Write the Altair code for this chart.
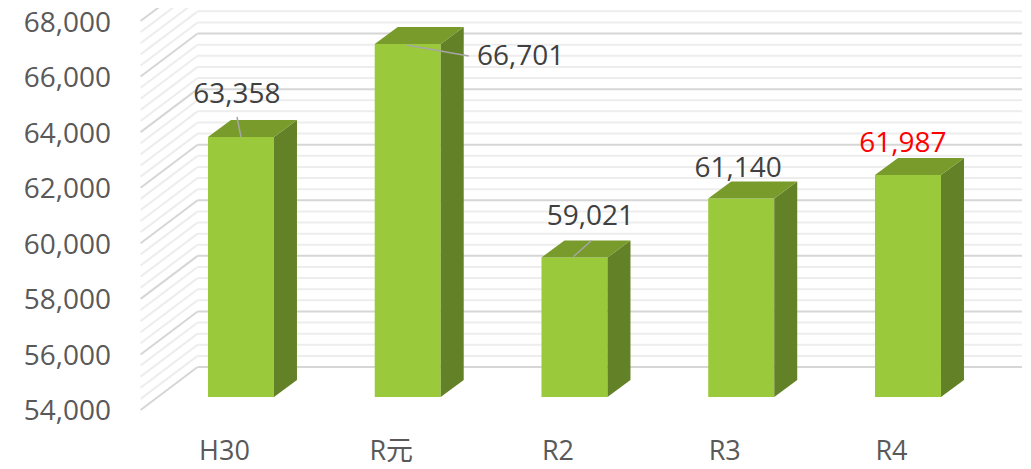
import altair as alt
import pandas as pd

# ---- data ----
categories = ["H30", "R元", "R2", "R3", "R4"]
values = [63358, 66701, 59021, 61140, 61987]
label_colors = ["#404040", "#404040", "#404040", "#404040", "#FF0000"]
y_ticks = [54000, 56000, 58000, 60000, 62000, 64000, 66000, 68000]

# ---- style / layout ----
Y_MIN, Y_MAX = 54000, 68000
MINOR_STEP = 400
W, H = 833.75, 389.0
PX_X = W / len(categories)          # px per category index
PX_Y = H / (Y_MAX - Y_MIN)          # px per unit
WALL_DX, WALL_DY = 57, -43          # perspective offset of the back wall (px)
BAR_OX, BAR_OY = 17, -13            # bar front plane offset (px)
BAR_DEPTH_X, BAR_DEPTH_Y = 23, 17   # bar depth (px)
BAR_HALF = 33                       # half bar width (px)
FONT = "Open Sans, Noto Sans CJK JP, sans-serif"

# label offsets (px) relative to bar front-top centre
label_offsets = [(-4, -42), (113, 13), (16, -40), (-3, -30), (-5, -31)]
# leader lines (start, end) in px relative to bar front-top centre
leaders = [((-4, -20), (0, 0)), ((-1, 1), (61, 12)), ((-1, -1), (17, -17)), None, None]

hw = BAR_HALF / PX_X
ddx = BAR_DEPTH_X / PX_X
ddy = BAR_DEPTH_Y / PX_Y

xscale = alt.Scale(domain=[-0.5, len(categories) - 0.5], nice=False, zero=False)
yscale = alt.Scale(domain=[Y_MIN, Y_MAX], nice=False, zero=False)

label_expr = "[" + ",".join("'" + c + "'" for c in categories) + "][datum.value]"

# grid values
grid_vals = list(range(Y_MIN, Y_MAX + 1, MINOR_STEP))
grid = pd.DataFrame({
    "v": grid_vals,
    "major": [v % 2000 == 0 for v in grid_vals],
    "x0": -0.5,
    "x1": len(categories) - 0.5,
})

bars = pd.DataFrame({
    "i": list(range(len(categories))),
    "cat": categories,
    "v": values,
})
bars["xl"] = bars["i"] - hw
bars["xr"] = bars["i"] + hw
bars["base"] = Y_MIN

side_rows, top_rows = [], []
for i, v in enumerate(values):
    side_rows.append({"bar": i, "x": i + hw, "top": v, "bot": Y_MIN})
    side_rows.append({"bar": i, "x": i + hw + ddx, "top": v + ddy, "bot": Y_MIN + ddy})
    top_rows.append({"bar": i, "x": i - hw, "lo": v, "hi": v})
    top_rows.append({"bar": i, "x": i - hw + ddx, "lo": v, "hi": v + ddy})
    top_rows.append({"bar": i, "x": i + hw, "lo": v, "hi": v + ddy})
    top_rows.append({"bar": i, "x": i + hw + ddx, "lo": v + ddy, "hi": v + ddy})
side = pd.DataFrame(side_rows)
top = pd.DataFrame(top_rows)

lab_rows = []
for i, (v, (dx, dy), col) in enumerate(zip(values, label_offsets, label_colors)):
    lab_rows.append({
        "x": i + (BAR_OX + dx) / PX_X,
        "y": v - (BAR_OY + dy) / PX_Y,
        "text": f"{v:,}",
        "color": col,
    })
labels = pd.DataFrame(lab_rows)

lead_rows = []
for i, (v, ld) in enumerate(zip(values, leaders)):
    if ld is None:
        continue
    (sx, sy), (ex, ey) = ld
    lead_rows.append({
        "x": i + (BAR_OX + sx) / PX_X, "y": v - (BAR_OY + sy) / PX_Y,
        "x2": i + (BAR_OX + ex) / PX_X, "y2": v - (BAR_OY + ey) / PX_Y,
    })
lead = pd.DataFrame(lead_rows)

x_axis = alt.Axis(values=list(range(len(categories))), labelExpr=label_expr,
                  grid=False, domain=False, ticks=False, labelFlush=False,
                  labelOverlap=False, labelFont=FONT, labelFontSize=27,
                  labelColor="#595959", labelPadding=50,
                  labelBaseline="alphabetic", title=None)
y_axis = alt.Axis(values=y_ticks, labelExpr="format(datum.value, ',')",
                  grid=False, domain=False, ticks=False,
                  labelFlush=False, labelOverlap=False, labelFont=FONT,
                  labelFontSize=28, labelColor="#595959", labelPadding=30,
                  labelOffset=2, title=None)


def X(field):
    return alt.X(field, scale=xscale, axis=x_axis, title=None)


def Y(field):
    return alt.Y(field, scale=yscale, axis=y_axis, title=None)


base_grid = alt.Chart(grid)


def wall(major, color, width):
    return base_grid.transform_filter(
        alt.datum.major if major else ~alt.datum.major
    ).mark_rule(xOffset=WALL_DX, x2Offset=WALL_DX, yOffset=WALL_DY,
                color=color, strokeWidth=width).encode(
        x=X("x0:Q"), x2="x1:Q", y=Y("v:Q"),
    )


def sidewall(major, color, width):
    return base_grid.transform_filter(
        alt.datum.major if major else ~alt.datum.major
    ).mark_rule(x2Offset=WALL_DX, y2Offset=WALL_DY, color=color,
                strokeWidth=width).encode(
        x=X("x0:Q"), x2="x0:Q", y=Y("v:Q"), y2="v:Q",
    )


minor_c, major_c = "#EDEDED", "#D6D6D6"
back_minor = wall(False, minor_c, 2)
back_major = wall(True, major_c, 2)
side_minor = sidewall(False, minor_c, 2)
side_major = sidewall(True, major_c, 2)

front = alt.Chart(bars).mark_rect(
    xOffset=BAR_OX, x2Offset=BAR_OX, yOffset=BAR_OY, y2Offset=BAR_OY,
    color="#9ACA3C").encode(
    x=X("xl:Q"), x2="xr:Q", y=Y("v:Q"), y2="base:Q",
)

side_face = alt.Chart(side).mark_area(
    orient="vertical", xOffset=BAR_OX, yOffset=BAR_OY, y2Offset=BAR_OY,
    color="#638227", interpolate="linear").encode(
    x=X("x:Q"), y=Y("top:Q"), y2="bot:Q", detail="bar:N",
)

top_face = alt.Chart(top).mark_area(
    orient="vertical", xOffset=BAR_OX, yOffset=BAR_OY, y2Offset=BAR_OY,
    color="#789B2C", interpolate="linear").encode(
    x=X("x:Q"), y=Y("lo:Q"), y2="hi:Q", detail="bar:N",
)

leader = alt.Chart(lead).mark_rule(color="#A6A6A6", strokeWidth=1.5).encode(
    x=X("x:Q"), x2="x2:Q", y=Y("y:Q"), y2="y2:Q",
)

text = alt.Chart(labels).mark_text(
    font=FONT, fontSize=28, align="center", baseline="middle").encode(
    x=X("x:Q"), y=Y("y:Q"),
    text="text:N",
    color=alt.Color("color:N", scale=None),
)

chart = alt.layer(
    back_minor, back_major, side_minor, side_major,
    front, side_face, top_face, leader, text,
).properties(
    width=W, height=H,
    background="white",
    autosize=alt.AutoSizeParams(type="none"),
    padding={"left": 132.6, "top": 13, "right": 48, "bottom": 60},
).configure_view(stroke=None)

chart.save("out.html", embed_options={"renderer": "svg", "actions": False})
